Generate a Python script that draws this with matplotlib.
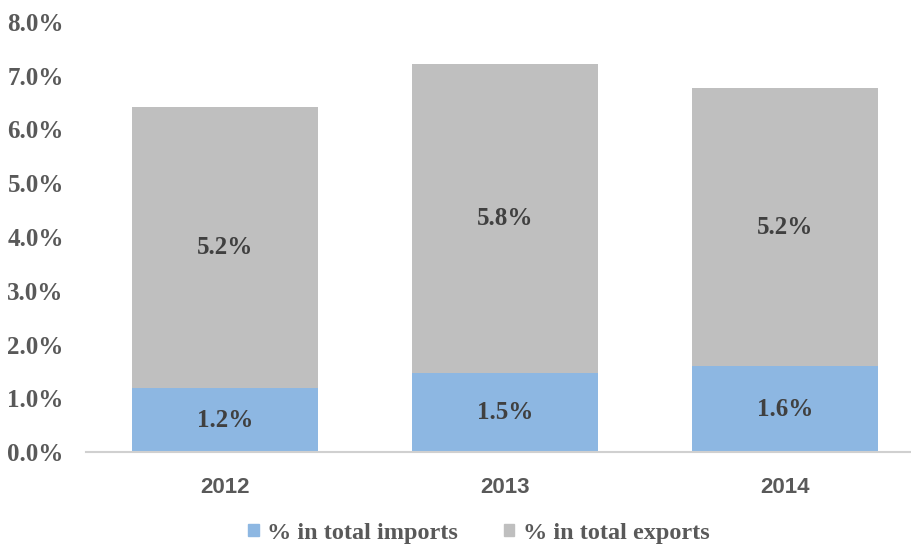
import matplotlib.pyplot as plt
import numpy as np
from matplotlib.patches import Patch

years = ["2012", "2013", "2014"]
imports_share = [1.19, 1.47, 1.60]
exports_share = [5.23, 5.75, 5.17]
series_names = ["% in total imports", "% in total exports"]

blue = "#8DB7E2"
grey = "#BFBFBF"
tick_col = "#595959"
label_col = "#404040"
serif = ["Liberation Serif", "DejaVu Serif"]

fig = plt.figure(figsize=(9.12, 5.46), dpi=100)
ax = fig.add_axes([86 / 912, 94 / 546, 826 / 912, 430 / 546])

x = np.arange(len(years))
w = 0.664
b1 = ax.bar(x, imports_share, width=w, color=blue, zorder=2)
b2 = ax.bar(x, exports_share, width=w, bottom=imports_share, color=grey, zorder=2)

for bars, vals, base in [(b1, imports_share, [0] * 3), (b2, exports_share, imports_share)]:
    for rect, v, b0 in zip(bars, vals, base):
        ax.text(rect.get_x() + rect.get_width() / 2, b0 + v / 2, f"{v:.1f}%",
                ha="center", va="center", fontsize=18, fontweight="bold",
                family=serif, color=label_col)

ax.set_xlim((86 - 225) / 280, (912 - 225) / 280)
ax.set_ylim(0, 8)
ax.set_yticks(np.arange(0, 9, 1))
ax.set_yticklabels([f"{v:.1f}%" for v in range(9)], fontsize=18, fontweight="bold",
                   family=serif, color=tick_col)
ax.set_xticks(x)
ax.set_xticklabels(years, fontsize=16, fontweight="bold",
                   family=["Liberation Sans", "DejaVu Sans"], color=tick_col)
ax.tick_params(axis="both", length=0)
ax.tick_params(axis="x", pad=18)
ax.tick_params(axis="y", pad=16)
for side in ["top", "right", "left"]:
    ax.spines[side].set_visible(False)
ax.spines["bottom"].set_color("#D0D0D0")
ax.spines["bottom"].set_linewidth(1.5)

handles = [Patch(color=blue), Patch(color=grey)]
fig.legend(handles, series_names, loc="center", bbox_to_anchor=(479 / 912, 1 - 533 / 546),
           ncol=2, frameon=False, handlelength=0.42, handleheight=0.42, handletextpad=0.35,
           columnspacing=1.9, prop={"family": serif, "weight": "bold", "size": 17.5},
           labelcolor=tick_col)

fig.savefig("out.png", dpi=100)
